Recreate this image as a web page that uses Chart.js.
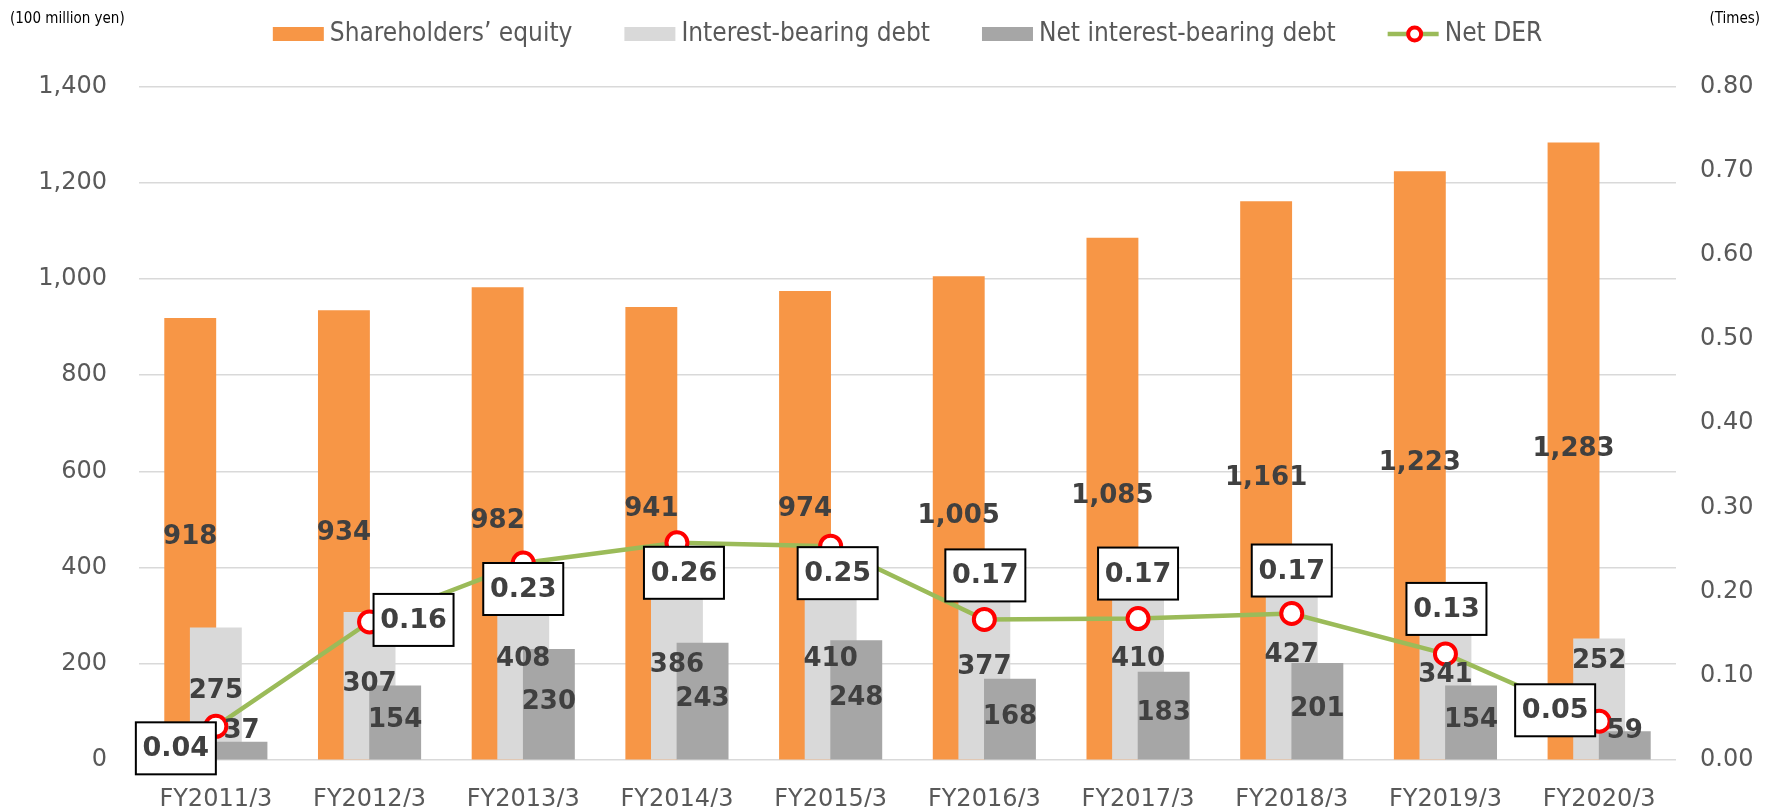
<!DOCTYPE html>
<html>
<head>
<meta charset="utf-8">
<script src="https://cdn.jsdelivr.net/npm/chart.js@4.4.1/dist/chart.umd.min.js"></script>
<style>
  body { margin: 0; background: #fff; }
  #wrap { width: 1775px; height: 807px; }
</style>
</head>
<body>
<div id="wrap"><canvas id="derChart" width="1775" height="807"></canvas></div>
<script>
// data
const categories = ['FY2011/3', 'FY2012/3', 'FY2013/3', 'FY2014/3', 'FY2015/3',
  'FY2016/3', 'FY2017/3', 'FY2018/3', 'FY2019/3', 'FY2020/3'];
const equity = [918, 934, 982, 941, 974, 1005, 1085, 1161, 1223, 1283];
const interestDebt = [275, 307, 408, 386, 410, 377, 410, 427, 341, 252];
const netDebt = [37, 154, 230, 243, 248, 168, 183, 201, 154, 59];
const netDER = [0.040, 0.164, 0.234, 0.258, 0.254, 0.167, 0.168, 0.174, 0.126, 0.046];

const TXT = '#404040';
const AXIS_TXT = '#595959';
const NARROW = '"DejaVu Sans Condensed", "Liberation Sans Narrow", "DejaVu Sans", sans-serif';

Chart.defaults.font.family = '"DejaVu Sans", Verdana, sans-serif';

// where each DER box sits relative to its point (dx, dy of box centre)
const derBoxOffsets = [[-40, 22], [44, -2], [0, 26], [7, 30], [7, 27],
  [1, -44], [0, -45], [0, -43], [1, -45], [-44, -11]];
// hand nudges of some bar labels (px, up is negative)
const labelNudges = { 0: { 3: -22, 4: -14 }, 1: { 9: -36 } };

// bars are drawn left to right so the later ones cover the earlier ones
const barOrder = {
  id: 'barOrder',
  beforeDatasetDraw(chart, args) {
    if (chart.getDatasetMeta(args.index).type === 'bar') return false;
  },
  beforeDatasetsDraw(chart) {
    chart.data.datasets.forEach((ds, i) => {
      const meta = chart.getDatasetMeta(i);
      if (meta.type === 'bar' && chart.isDatasetVisible(i)) meta.controller.draw();
    });
  }
};

const valueLabels = {
  id: 'valueLabels',
  afterDatasetsDraw(chart) {
    const ctx = chart.ctx;
    ctx.save();
    ctx.textAlign = 'center';
    ctx.textBaseline = 'middle';
    ctx.font = 'bold 26px "DejaVu Sans", Verdana, sans-serif';
    ctx.fillStyle = TXT;
    [0, 1, 2].forEach(di => {
      const meta = chart.getDatasetMeta(di);
      const vals = chart.data.datasets[di].data;
      meta.data.forEach((bar, i) => {
        let cy = Math.min((bar.y + bar.base) / 2 - 2, bar.base - 28);
        if (labelNudges[di] && labelNudges[di][i]) cy += labelNudges[di][i];
        ctx.fillText(vals[i].toLocaleString('en-US'), bar.x, cy);
      });
    });

    // Net DER boxes
    ctx.font = 'bold 27px "DejaVu Sans", Verdana, sans-serif';
    const lineMeta = chart.getDatasetMeta(3);
    lineMeta.data.forEach((pt, i) => {
      const off = derBoxOffsets[i];
      const cx = pt.x + off[0];
      const cy = pt.y + off[1];
      ctx.fillStyle = '#fff';
      ctx.fillRect(cx - 40, cy - 26, 80, 52);
      ctx.strokeStyle = '#000';
      ctx.lineWidth = 2;
      ctx.strokeRect(cx - 40, cy - 26, 80, 52);
      ctx.fillStyle = TXT;
      ctx.fillText(netDER[i].toFixed(2), cx, cy + 1);
    });
    ctx.restore();
  }
};

const legendAndUnits = {
  id: 'legendAndUnits',
  afterDraw(chart) {
    const ctx = chart.ctx;
    const area = chart.chartArea;
    ctx.save();
    ctx.font = '15px ' + NARROW;
    ctx.fillStyle = '#000';
    ctx.textBaseline = 'middle';
    ctx.textAlign = 'left';
    ctx.fillText('(100 million yen)', 10, 19);
    ctx.textAlign = 'right';
    ctx.fillText('(Times)', 1760, 19);

    ctx.font = '26px ' + NARROW;
    ctx.textAlign = 'left';
    const items = chart.data.datasets.map(ds => ({ ds, w: 51 + 6 + ctx.measureText(ds.label).width }));
    const gap = 52;
    const total = items.reduce((s, it) => s + it.w, 0) + gap * (items.length - 1);
    let x = (area.left + area.right) / 2 - total / 2;
    const y = 34;
    items.forEach(it => {
      const ds = it.ds;
      if (ds.type === 'line') {
        ctx.strokeStyle = ds.borderColor;
        ctx.lineWidth = 4.5;
        ctx.beginPath();
        ctx.moveTo(x, y);
        ctx.lineTo(x + 51, y);
        ctx.stroke();
        ctx.beginPath();
        ctx.arc(x + 27, y, 6.5, 0, Math.PI * 2);
        ctx.fillStyle = '#fff';
        ctx.fill();
        ctx.strokeStyle = ds.pointBorderColor;
        ctx.lineWidth = 4;
        ctx.stroke();
      } else {
        ctx.fillStyle = ds.backgroundColor;
        ctx.fillRect(x, y - 7, 51, 14);
      }
      ctx.fillStyle = AXIS_TXT;
      ctx.fillText(ds.label, x + 57, y);
      x += it.w + gap;
    });
    ctx.restore();
  }
};

const ctx = document.getElementById('derChart').getContext('2d');
const chart = new Chart(ctx, {
  data: {
    labels: categories,
    datasets: [
      { type: 'bar', label: 'Shareholders\u2019 equity', data: equity, backgroundColor: '#F79646', yAxisID: 'y' },
      { type: 'bar', label: 'Interest-bearing debt', data: interestDebt, backgroundColor: '#D9D9D9', yAxisID: 'y' },
      { type: 'bar', label: 'Net interest-bearing debt', data: netDebt, backgroundColor: '#A6A6A6', yAxisID: 'y' },
      {
        type: 'line', label: 'Net DER', data: netDER, yAxisID: 'y1',
        borderColor: '#9BBB59', borderWidth: 4.5, tension: 0,
        pointRadius: 10.5, pointHoverRadius: 10.5, pointBorderWidth: 4,
        pointBorderColor: '#FF0000', pointBackgroundColor: '#FFFFFF'
      }
    ]
  },
  options: {
    responsive: false,
    animation: false,
    events: [],
    datasets: {
      bar: { categoryPercentage: 0.5, barPercentage: 2 }
    },
    layout: { padding: { top: 86.5, left: 0, right: 0, bottom: 0 } },
    plugins: {
      legend: { display: false },
      tooltip: { enabled: false }
    },
    scales: {
      x: {
        grid: { display: false, drawTicks: false },
        border: { display: false },
        ticks: { font: { size: 24 }, color: AXIS_TXT, padding: 25, maxRotation: 0 },
        afterFit(scale) { scale.height = 47; }
      },
      y: {
        position: 'left',
        min: 0, max: 1400,
        grid: { color: '#D9D9D9', lineWidth: 1.5, drawTicks: false },
        border: { display: false },
        ticks: { stepSize: 200, font: { size: 24 }, color: AXIS_TXT, padding: 32 },
        afterFit(scale) { scale.width = 139; }
      },
      y1: {
        position: 'right',
        min: 0, max: 0.8,
        grid: { display: false, drawTicks: false },
        border: { display: false },
        ticks: {
          stepSize: 0.1, font: { size: 24 }, color: AXIS_TXT, padding: 24,
          callback: v => v.toFixed(2)
        },
        afterFit(scale) { scale.width = 99; }
      }
    }
  },
  plugins: [barOrder, valueLabels, legendAndUnits]
});
</script>
</body>
</html>
